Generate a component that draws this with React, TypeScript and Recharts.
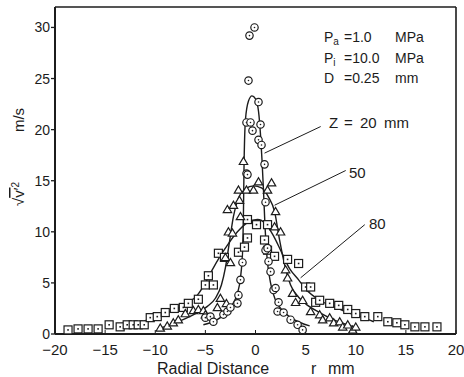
import { ComposedChart, Line, Scatter, XAxis, YAxis, ReferenceLine } from 'recharts'

const INK = '#1c1c1c'
const FONT = '"Liberation Sans", Arial, sans-serif'

const X_TICKS = [-20, -15, -10, -5, 0, 5, 10, 15, 20]
const Y_TICKS = [0, 5, 10, 15, 20, 25, 30]

// measured points, Z = 20 mm (circles)
const z20R = [-5.0, -4.5, -4.2, -3.2, -2.8, -2.5, -1.8, -1.7, -1.5, -1.3, -0.9, -0.8, -0.9, -0.5, -0.7, -0.6, -0.1, -0.3, 0.3, 0.5, 0.3, 0.6, 0.9, 1.0, 1.0, 1.2, 1.3, 1.5, 1.8, 2.0, 2.3, 2.2, 2.8, 3.5, 4.2, 4.7]
const z20V = [1.6, 1.7, 1.2, 1.9, 2.2, 2.6, 3.0, 3.8, 5.3, 7.0, 15.7, 15.6, 20.7, 20.7, 24.8, 29.2, 30.0, 19.9, 22.7, 20.5, 19.0, 18.5, 16.6, 12.9, 8.2, 8.4, 7.1, 6.1, 4.3, 4.5, 3.1, 2.2, 2.1, 1.4, 0.9, 0.4]

// measured points, Z = 50 mm (triangles)
const z50R = [-9.5, -8.8, -8.2, -7.7, -7.0, -6.2, -5.7, -5.2, -5.0, -3.8, -3.5, -2.9, -3.0, -2.5, -2.7, -2.3, -2.8, -2.2, -1.6, -1.5, -1.7, -0.9, -0.2, 0.3, 1.2, 1.6, -1.2, 2.0, 1.9, 2.5, 3.0, 3.2, 3.7, 4.0, 4.7, 5.5, 6.4, 6.7, 7.4, 7.8, 8.4, 8.7, 9.2, 9.7, 10.0]
const z50V = [0.6, 0.8, 1.1, 1.4, 2.0, 2.3, 2.4, 2.3, 1.9, 2.6, 3.5, 3.0, 7.5, 7.0, 10.0, 9.9, 12.2, 12.6, 13.1, 11.5, 14.1, 14.1, 14.1, 14.9, 14.1, 14.8, 16.9, 12.0, 10.5, 10.0, 6.3, 5.5, 4.0, 3.1, 3.3, 2.2, 1.9, 1.4, 1.6, 1.1, 1.2, 0.7, 0.9, 0.4, 0.7]

// measured points, Z = 80 mm (squares)
const z80R = [-18.7, -17.7, -16.7, -15.7, -14.6, -13.5, -12.8, -12.2, -11.7, -11.1, -10.5, -9.8, -9.0, -8.1, -7.2, -6.7, -5.7, -5.0, -4.2, -4.7, -3.7, -3.1, -1.7, -1.1, -0.8, -0.8, 0.1, 1.2, 0.9, 1.2, 1.9, 3.2, 4.3, 5.0, 5.5, 6.0, 6.4, 7.4, 8.3, 9.2, 10.0, 10.9, 12.2, 13.2, 14.1, 14.9, 15.9, 16.9, 18.1]
const z80V = [0.4, 0.5, 0.5, 0.5, 0.9, 0.7, 0.9, 0.9, 0.9, 0.9, 1.6, 1.7, 2.1, 2.5, 2.6, 3.0, 3.4, 4.8, 4.8, 5.7, 7.9, 7.5, 8.0, 8.5, 9.4, 11.2, 10.7, 10.7, 9.2, 8.2, 7.6, 7.3, 6.9, 4.6, 4.6, 3.1, 3.3, 3.0, 2.8, 2.4, 2.0, 1.7, 1.7, 1.2, 1.1, 0.9, 0.7, 0.7, 0.7]

// hand-drawn curves through each profile
const c20R = [-5.2, -4.0, -3.0, -2.3, -1.8, -1.5, -1.3, -1.2, -1.15, -1.0, -0.7, -0.35, 0.0, 0.3, 0.5, 0.65, 0.8, 0.95, 1.15, 1.5, 2.0, 2.7, 3.5, 4.5, 5.4]
const c20V = [0.9, 1.3, 2.0, 2.9, 4.0, 5.5, 8.0, 12.0, 16.0, 21.0, 22.8, 23.3, 23.0, 21.8, 19.5, 17.0, 14.0, 10.5, 7.5, 5.0, 3.3, 2.3, 1.6, 1.1, 0.8]
const c50R = [-9.8, -8.5, -7.0, -5.8, -4.8, -4.0, -3.4, -3.0, -2.6, -2.2, -1.7, -1.0, -0.2, 0.6, 1.3, 1.9, 2.4, 2.9, 3.5, 4.3, 5.2, 6.4, 8.0, 10.2]
const c50V = [0.5, 0.9, 1.5, 2.1, 2.7, 3.5, 4.8, 6.5, 9.0, 11.5, 13.3, 14.2, 14.5, 14.3, 13.4, 12.0, 9.2, 6.8, 4.8, 3.6, 2.8, 2.1, 1.3, 0.6]
const c80R = [-12.5, -11.0, -9.5, -8.0, -6.8, -5.8, -5.0, -4.3, -3.6, -2.8, -1.8, -0.8, 0.2, 1.0, 1.8, 2.5, 3.4, 4.3, 5.0, 6.4, 8.0, 9.2, 10.5, 11.8]
const c80V = [0.9, 1.3, 1.8, 2.4, 3.0, 3.8, 5.0, 6.3, 7.5, 8.7, 10.0, 10.9, 11.2, 10.8, 9.6, 8.2, 6.4, 5.3, 4.4, 3.3, 2.6, 2.1, 1.7, 1.2]

// leader lines: [r0, v0, r1, v1]
const LEADER_20 = [0.9, 17.7, 6.5, 20.3]
const LEADER_50 = [1.9, 12.6, 9.0, 16.0]
const LEADER_80 = [4.5, 5.5, 10.9, 10.7]

const toPoints = (r: number[], v: number[]) => r.map((x, i) => ({ r: x, v: v[i] }))

interface MarkProps {
  cx?: number
  cy?: number
}

function CircleMark({ cx, cy }: MarkProps) {
  if (cx == null || cy == null) return null
  return (
    <g>
      <circle cx={cx} cy={cy} r={3.7} fill="#fff" stroke={INK} strokeWidth={1.2} />
      <circle cx={cx} cy={cy} r={0.8} fill={INK} />
    </g>
  )
}

function TriangleMark({ cx, cy }: MarkProps) {
  if (cx == null || cy == null) return null
  return (
    <polygon
      points={`${cx - 4.2},${cy + 3.2} ${cx + 4.2},${cy + 3.2} ${cx},${cy - 4}`}
      fill="#fff"
      stroke={INK}
      strokeWidth={1.2}
    />
  )
}

function SquareMark({ cx, cy }: MarkProps) {
  if (cx == null || cy == null) return null
  return (
    <g>
      <rect x={cx - 4} y={cy - 4} width={8} height={8} fill="#fff" stroke={INK} strokeWidth={1.2} />
      <rect x={cx - 0.8} y={cy - 0.8} width={1.6} height={1.6} fill={INK} />
    </g>
  )
}

const fmtX = (v: number) => (v < 0 ? `\u2212${-v}` : `${v}`)

function leader(l: number[]) {
  return [
    { x: l[0], y: l[1] },
    { x: l[2], y: l[3] },
  ]
}

export default function App() {
  const txt = { fontFamily: FONT, fill: INK }
  return (
    <div style={{ position: 'relative', width: 464, height: 377, background: '#fff' }}>
      <style>{'body{margin:0}'}</style>
      <ComposedChart width={464} height={377} margin={{ top: 7, right: 8, left: 0, bottom: 0 }}>
        <XAxis
          dataKey="r"
          type="number"
          domain={[-20, 20]}
          ticks={X_TICKS}
          interval={0}
          tickFormatter={fmtX}
          height={43}
          tickSize={-4}
          tickMargin={14}
          tick={{ fontSize: 15, fill: INK, fontFamily: FONT }}
          tickLine={{ stroke: INK, strokeWidth: 1 }}
          axisLine={{ stroke: INK, strokeWidth: 2 }}
        />
        <YAxis
          type="number"
          domain={[0, 32]}
          ticks={Y_TICKS}
          interval={0}
          width={55}
          tickSize={4}
          tickMargin={1}
          tick={{ fontSize: 14, fill: INK, fontFamily: FONT }}
          tickLine={{ stroke: INK, strokeWidth: 1.3 }}
          axisLine={{ stroke: INK, strokeWidth: 2 }}
        />
        <ReferenceLine y={32} stroke={INK} strokeWidth={1.6} />
        <ReferenceLine x={20} stroke={INK} strokeWidth={1.6} />
        <ReferenceLine segment={leader(LEADER_20)} stroke={INK} strokeWidth={1} />
        <ReferenceLine segment={leader(LEADER_50)} stroke={INK} strokeWidth={1} />
        <ReferenceLine segment={leader(LEADER_80)} stroke={INK} strokeWidth={1} />
        <Line data={toPoints(c20R, c20V)} dataKey="v" type="monotone" stroke={INK} strokeWidth={1.4} dot={false} isAnimationActive={false} />
        <Line data={toPoints(c50R, c50V)} dataKey="v" type="monotone" stroke={INK} strokeWidth={1.4} dot={false} isAnimationActive={false} />
        <Line data={toPoints(c80R, c80V)} dataKey="v" type="monotone" stroke={INK} strokeWidth={1.4} dot={false} isAnimationActive={false} />
        <Scatter data={toPoints(z80R, z80V)} dataKey="v" shape={SquareMark} isAnimationActive={false} />
        <Scatter data={toPoints(z50R, z50V)} dataKey="v" shape={TriangleMark} isAnimationActive={false} />
        <Scatter data={toPoints(z20R, z20V)} dataKey="v" shape={CircleMark} isAnimationActive={false} />
      </ComposedChart>
      <svg width={464} height={377} style={{ position: 'absolute', left: 0, top: 0, pointerEvents: 'none' }}>
        <g {...txt} fontSize={14}>
          <text x={324} y={42}>P<tspan dy={3} fontSize={10}>a</tspan></text>
          <text x={344} y={42}>=1.0</text>
          <text x={395} y={42}>MPa</text>
          <text x={324} y={63}>P<tspan dy={3} fontSize={10}>i</tspan></text>
          <text x={344} y={63}>=10.0</text>
          <text x={395} y={63}>MPa</text>
          <text x={324} y={83}>D</text>
          <text x={344} y={83}>=0.25</text>
          <text x={395} y={83}>mm</text>
        </g>
        <g {...txt} fontSize={15}>
          <text x={329} y={128}>Z</text>
          <text x={344} y={128}>=</text>
          <text x={360} y={128}>20</text>
          <text x={384} y={128}>mm</text>
          <text x={349} y={178}>50</text>
          <text x={369} y={229}>80</text>
        </g>
        <g {...txt} fontSize={16}>
          <text x={157} y={374}>Radial Distance</text>
          <text x={311} y={374}>r</text>
          <text x={328} y={374}>mm</text>
        </g>
        <g {...txt} fontSize={15}>
          <text transform="translate(24,120) rotate(-90)" textAnchor="middle">m/s</text>
          <text transform="translate(24,194) rotate(-90)" textAnchor="middle">
            √<tspan textDecoration="overline">v′</tspan>
            <tspan dy={-5} fontSize={10}>2</tspan>
          </text>
        </g>
      </svg>
    </div>
  )
}
